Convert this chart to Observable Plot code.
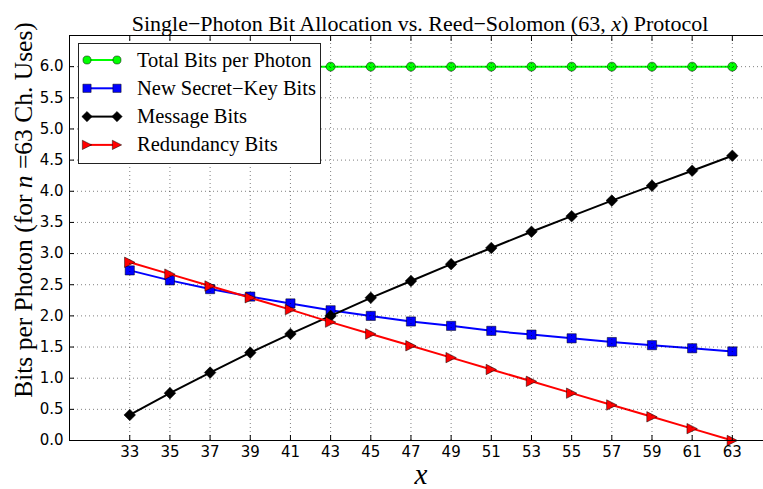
<!DOCTYPE html>
<html>
<head>
<meta charset="utf-8">
<script src="https://cdn.jsdelivr.net/npm/d3@7"></script>
<script src="https://cdn.jsdelivr.net/npm/@observablehq/plot@0.6"></script>
<style>
  html, body { margin: 0; padding: 0; background: #fff; }
  #fig { position: relative; width: 763px; height: 489px; overflow: hidden; background: #fff; }
  #fig svg.chart { position: absolute; left: 0; top: 0; max-width: none !important; }
  .serif { position: absolute; font-family: "Liberation Serif", "Times New Roman", serif; color: #000; white-space: nowrap; line-height: 1; }
  #title { font-size: 22px; left: 420px; top: 12.5px; transform: translateX(-50%); }
  #ylabel { font-size: 25.5px; left: 23.5px; top: 210px; transform: translate(-50%, -50%) rotate(-90deg); }
  #xlabel { font-size: 29px; left: 421px; top: 460px; transform: translateX(-50%); font-style: italic; }
  #legend { position: absolute; left: 78px; top: 43px; }
</style>
</head>
<body>
<div id="fig">
  <div id="title" class="serif">Single&minus;Photon Bit Allocation vs. Reed&minus;Solomon (63, <i>x</i>) Protocol</div>
  <div id="ylabel" class="serif">Bits per Photon (for <i>n</i> =63 Ch. Uses)</div>
  <div id="xlabel" class="serif">x</div>
</div>
<script>
// Reed–Solomon code length n = 63, message length x
const xValues = [33, 35, 37, 39, 41, 43, 45, 47, 49, 51, 53, 55, 57, 59, 61, 63];

const totalBits      = [6.00, 6.00, 6.00, 6.00, 6.00, 6.00, 6.00, 6.00, 6.00, 6.00, 6.00, 6.00, 6.00, 6.00, 6.00, 6.00];
const secretKeyBits  = [2.73, 2.57, 2.43, 2.31, 2.20, 2.09, 2.00, 1.91, 1.84, 1.76, 1.70, 1.64, 1.58, 1.53, 1.48, 1.43];
const messageBits    = [0.41, 0.76, 1.09, 1.41, 1.71, 2.00, 2.29, 2.56, 2.83, 3.09, 3.35, 3.60, 3.85, 4.09, 4.33, 4.57];
const redundancyBits = [2.86, 2.67, 2.48, 2.29, 2.10, 1.90, 1.71, 1.52, 1.33, 1.14, 0.95, 0.76, 0.57, 0.38, 0.19, 0.00];

const seriesNames  = ["Total Bits per Photon", "New Secret\u2212Key Bits", "Message Bits", "Redundancy Bits"];
const seriesColors = ["#00ff00", "#0000ff", "#000000", "#ff0000"];

const xTicks  = [33, 35, 37, 39, 41, 43, 45, 47, 49, 51, 53, 55, 57, 59, 61, 63];
const yTicks  = [0, 0.5, 1, 1.5, 2, 2.5, 3, 3.5, 4, 4.5, 5, 5.5, 6];
const xDomain = [30, 65];
const yDomain = [0, 6.5];

// marker shapes (half-extent derived from Plot's size = r²π)
const half = (size) => Math.sqrt(size / Math.PI);
const squareMarker = {draw(c, size) { const h = half(size); c.moveTo(-h, -h); c.lineTo(h, -h); c.lineTo(h, h); c.lineTo(-h, h); c.closePath(); }};
const diamondMarker = {draw(c, size) { const h = half(size); c.moveTo(0, -h); c.lineTo(h, 0); c.lineTo(0, h); c.lineTo(-h, 0); c.closePath(); }};
const triangleRightMarker = {draw(c, size) { const h = half(size); c.moveTo(h, 0); c.lineTo(-h, h); c.lineTo(-h, -h); c.closePath(); }};
const circleMarker = d3.symbolCircle;

const seriesValues  = [totalBits, secretKeyBits, messageBits, redundancyBits];
const seriesSymbols = [circleMarker, squareMarker, diamondMarker, triangleRightMarker];
const seriesRadii   = [4.5, 4.6, 5.8, 5.2];

const series = seriesNames.map((name, k) => ({
  name,
  color: seriesColors[k],
  symbol: seriesSymbols[k],
  r: seriesRadii[k],
  rows: xValues.map((x, i) => ({x, y: seriesValues[k][i]}))
}));

const marks = [];
for (const s of series) {
  marks.push(Plot.line(s.rows, {x: "x", y: "y", stroke: s.color, strokeWidth: 2}));
  marks.push(Plot.dot(s.rows, {x: "x", y: "y", symbol: s.symbol, r: s.r, fill: s.color, stroke: "#000", strokeWidth: 0.5}));
}

const gridStyle = {stroke: "#000", strokeOpacity: 0.5, strokeWidth: 1, strokeDasharray: "1,3"};

const chart = Plot.plot({
  width: 772,
  height: 489,
  marginLeft: 69,
  marginRight: 0,
  marginTop: 35,
  marginBottom: 49,
  style: {fontFamily: "DejaVu Sans, sans-serif", fontSize: "15px", color: "#000", background: "transparent", maxWidth: "none"},
  x: {domain: xDomain},
  y: {domain: yDomain},
  marks: [
    ...marks,
    Plot.gridX({ticks: xTicks, ...gridStyle}),
    Plot.gridY({ticks: yTicks, ...gridStyle}),
    Plot.axisX({ticks: xTicks, anchor: "bottom", tickSize: -5, tickPadding: 11, tickFormat: (d) => String(d), label: null, fontSize: 15}),
    Plot.axisX({ticks: xTicks, anchor: "top", tickSize: -5, tickFormat: () => "", label: null}),
    Plot.axisY({ticks: yTicks, anchor: "left", tickSize: -5, tickPadding: 11, tickFormat: d3.format(".1f"), label: null, fontSize: 15}),
    Plot.frame({stroke: "#000", strokeWidth: 1})
  ]
});
chart.classList.add("chart");
const fig = document.getElementById("fig");
fig.insertBefore(chart, fig.firstChild);

// legend box
const lg = d3.select(fig).append("svg")
  .attr("id", "legend")
  .attr("width", 244).attr("height", 122);
lg.append("rect")
  .attr("x", 0.5).attr("y", 0.5).attr("width", 242).attr("height", 120)
  .attr("fill", "#fff").attr("stroke", "#222").attr("stroke-width", 1);
series.forEach((s, k) => {
  const cy = 17 + k * 28.3;
  const g = lg.append("g");
  g.append("line").attr("x1", 9).attr("x2", 39).attr("y1", cy).attr("y2", cy)
    .attr("stroke", s.color).attr("stroke-width", 2);
  for (const cx of [9, 39]) {
    g.append("path")
      .attr("d", d3.symbol(s.symbol, s.r * s.r * Math.PI * 0.8)())
      .attr("transform", `translate(${cx},${cy})`)
      .attr("fill", s.color).attr("stroke", "#000").attr("stroke-width", 0.5);
  }
  g.append("text").attr("x", 59).attr("y", cy + 6.5)
    .attr("font-family", "Liberation Serif, Times New Roman, serif")
    .attr("font-size", 20.5).attr("fill", "#000")
    .text(s.name);
});
</script>
</body>
</html>
